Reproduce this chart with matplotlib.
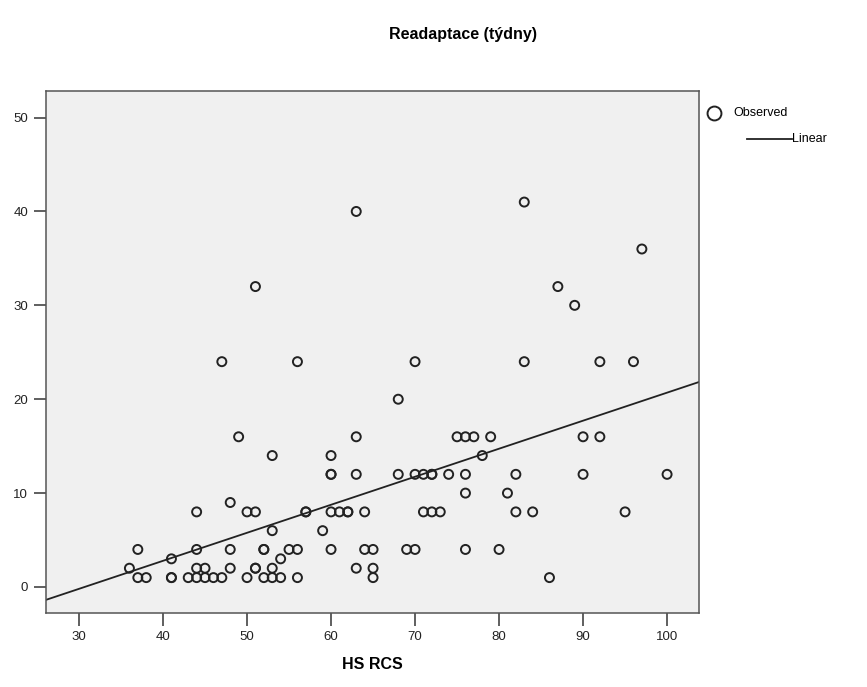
import numpy as np
import matplotlib.pyplot as plt
from matplotlib.lines import Line2D

plt.rcParams['font.family'] = ['Liberation Sans', 'DejaVu Sans']

# HS RCS vs readaptace (weeks)
hs_rcs = [36, 37, 37, 38, 41, 41, 41, 43, 44, 44, 44, 44, 45, 45, 46, 47, 47,
          48, 48, 48, 49, 50, 50, 51, 51, 51, 51, 52, 52, 52, 53, 53, 53, 53,
          54, 54, 55, 56, 56, 56, 57, 57, 59, 60, 60, 60, 60, 60, 61, 62, 62,
          63, 63, 63, 63, 64, 64, 65, 65, 65, 68, 68, 69, 70, 70, 70, 71, 71,
          72, 72, 72, 73, 74, 75, 76, 76, 76, 76, 77, 78, 79, 80, 81, 82, 82,
          83, 83, 84, 86, 87, 89, 90, 90, 92, 92, 95, 96, 97, 100]
weeks = [2, 4, 1, 1, 3, 1, 1, 1, 8, 4, 2, 1, 2, 1, 1, 1, 24,
         9, 4, 2, 16, 8, 1, 32, 8, 2, 2, 4, 4, 1, 14, 6, 2, 1,
         3, 1, 4, 24, 4, 1, 8, 8, 6, 14, 12, 12, 8, 4, 8, 8, 8,
         40, 16, 12, 2, 8, 4, 4, 2, 1, 20, 12, 4, 24, 12, 4, 12, 8,
         12, 12, 8, 8, 12, 16, 16, 12, 10, 4, 16, 14, 16, 4, 10, 12, 8,
         41, 24, 8, 1, 32, 30, 16, 12, 24, 16, 8, 24, 36, 12]

x = np.array(hs_rcs, dtype=float)
y = np.array(weeks, dtype=float)
slope, intercept = np.polyfit(x, y, 1)

fig = plt.figure(figsize=(8.67, 6.87), dpi=100)
ax = fig.add_axes([46/867, 1-613/687, (699-46)/867, (613-91)/687])
ax.set_facecolor('#f0f0f0')

ax.scatter(x, y, s=42, facecolors='none', edgecolors='#222222', linewidths=1.4, zorder=3)

xlim = (26.07, 103.8)
xx = np.array(xlim)
ax.plot(xx, intercept + slope*xx, color='#222222', lw=1.3, zorder=2)

ax.set_xlim(*xlim)
ax.set_ylim(-2.77, 52.83)
ax.set_xticks([30, 40, 50, 60, 70, 80, 90, 100])
ax.set_yticks([0, 10, 20, 30, 40, 50])
ax.tick_params(direction='out', length=9, width=1.2, color='#444444',
               labelsize=9.5, labelcolor='#222222', pad=4)
for sp in ax.spines.values():
    sp.set_color('#555555')
    sp.set_linewidth(1.1)

ax.set_xlabel('HS RCS', fontsize=11.5, fontweight='bold', labelpad=10)
fig.text(463/867, 1-35/687, 'Readaptace (týdny)', ha='center', va='center',
         fontsize=11.5, fontweight='bold')

# legend drawn SPSS-style at the right
fig.add_artist(Line2D([714/867], [1-113/687], marker='o', markersize=10,
                      markerfacecolor='none', markeredgecolor='#222222',
                      markeredgewidth=1.4, linestyle='none'))
fig.text(733/867, 1-113/687, 'Observed', ha='left', va='center', fontsize=9)
fig.add_artist(Line2D([747/867, 792/867], [1-139/687, 1-139/687],
                      color='#222222', lw=1.3))
fig.text(792/867, 1-139/687, 'Linear', ha='left', va='center', fontsize=9)

fig.savefig('out.png', dpi=100)
